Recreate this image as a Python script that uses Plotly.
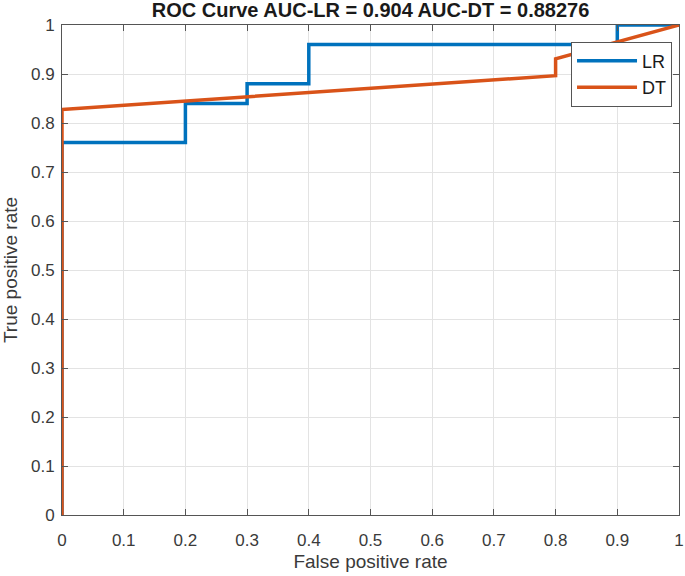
import plotly.graph_objects as go

lr_fpr = [0, 0, 0.2, 0.2, 0.3, 0.3, 0.4, 0.4, 0.9, 0.9, 1.0]
lr_tpr = [0, 0.76, 0.76, 0.84, 0.84, 0.88, 0.88, 0.96, 0.96, 1.0, 1.0]
dt_fpr = [0, 0, 0.8, 0.8, 1.0]
dt_tpr = [0, 0.8276, 0.8966, 0.931, 1.0]
ticks = [round(i * 0.1, 1) for i in range(11)]
tick_text = ["0", "0.1", "0.2", "0.3", "0.4", "0.5", "0.6", "0.7", "0.8", "0.9", "1"]

fig = go.Figure()
fig.add_trace(go.Scatter(x=lr_fpr, y=lr_tpr, mode="lines", name="LR",
                         line=dict(color="#0072BD", width=3.5)))
fig.add_trace(go.Scatter(x=dt_fpr, y=dt_tpr, mode="lines", name="DT",
                         line=dict(color="#D95319", width=3.5)))

axis_common = dict(range=[0, 1], tickvals=ticks, ticktext=tick_text,
                   showgrid=True, gridcolor="#E3E3E3", gridwidth=1,
                   zeroline=False, showline=True, linecolor="#555555", linewidth=1,
                   mirror="ticks", ticks="inside", ticklen=6, tickcolor="#555555",
                   ticklabeloverflow="allow", automargin=False,
                   tickfont=dict(size=17, color="#3a3a3a"))

fig.update_layout(
    width=685, height=576,
    margin=dict(l=62, r=6, t=25, b=61),
    paper_bgcolor="white", plot_bgcolor="white",
    font=dict(family="Liberation Sans, Arial, sans-serif", color="#3a3a3a"),
    title=dict(text="<b>ROC Curve AUC-LR = 0.904 AUC-DT = 0.88276</b>",
               x=0.541, xanchor="center", xref="container",
               y=1 - 10 / 576, yanchor="middle", yref="container",
               font=dict(size=20, color="#1a1a1a")),
    xaxis=dict(title=dict(text="False positive rate", font=dict(size=19), standoff=5),
               ticklabelstandoff=10, **axis_common),
    yaxis=dict(title=dict(text="True positive rate", font=dict(size=19), standoff=9),
               ticklabelstandoff=3, **axis_common),
    legend=dict(x=0.825, y=0.966, xanchor="left", yanchor="top",
                bgcolor="white", bordercolor="#555555", borderwidth=1,
                itemwidth=60,
                font=dict(size=18, color="#1a1a1a"), tracegroupgap=0),
    showlegend=True,
)
fig.write_html("out.html", config={"displayModeBar": False},
               post_script="document.body.style.margin='0';")
